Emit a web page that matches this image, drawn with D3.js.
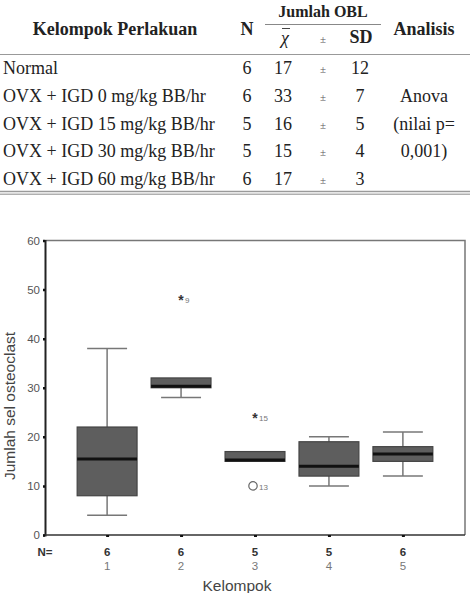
<!DOCTYPE html>
<html>
<head>
<meta charset="utf-8">
<script src="https://cdn.jsdelivr.net/npm/d3@7"></script>
<style>
	body { margin: 0; background: #fff; }
	svg { display: block; }
	.serif { font-family: "Liberation Serif", "Times New Roman", serif; fill: #222; }
	.sans { font-family: "Liberation Sans", Arial, sans-serif; }
</style>
</head>
<body>
<div id="chart"></div>
<script>
// table data
var tableGroups = ["Normal", "OVX + IGD 0 mg/kg BB/hr", "OVX + IGD 15 mg/kg BB/hr", "OVX + IGD 30 mg/kg BB/hr", "OVX + IGD 60 mg/kg BB/hr"];
var tableN = [6, 6, 5, 5, 6];
var tableMean = [17, 33, 16, 15, 17];
var tableSD = [12, 7, 5, 4, 3];
var analysisLines = ["Anova", "(nilai p=", "0,001)"];

// boxplot data
var groups = ["1", "2", "3", "4", "5"];
var groupN = [6, 6, 5, 5, 6];
var whiskerLow = [4, 28, 15, 10, 12];
var q1 = [8, 30, 15, 12, 15];
var median = [15.5, 30, 15, 14, 16.5];
var q3 = [22, 32, 17, 19, 18];
var whiskerHigh = [38, 32, 17, 20, 21];
var outlierGroup = ["2", "3", "3"];
var outlierValue = [48, 24, 10];
var outlierCase = ["9", "15", "13"];
var outlierKind = ["extreme", "extreme", "outlier"];
var yTicks = [0, 10, 20, 30, 40, 50, 60];

var width = 471, height = 593;

var svg = d3.select("#chart").append("svg")
	.attr("width", width)
	.attr("height", height);

svg.append("rect").attr("width", width).attr("height", height).attr("fill", "#fff");

//---------------- Table ----------------
var table = svg.append("g");
var colN = 247, colMean = 283, colPm = 323, colSD = 360, colAn = 424;

var rowY = d3.scalePoint()
	.domain(d3.range(tableGroups.length))
	.range([74, 185]);

// header
table.append("text").attr("class", "serif").attr("x", 115).attr("y", 35)
	.attr("text-anchor", "middle").style("font-size", "18px").style("font-weight", "bold")
	.text("Kelompok Perlakuan");
table.append("text").attr("class", "serif").attr("x", colN).attr("y", 35)
	.attr("text-anchor", "middle").style("font-size", "18px").style("font-weight", "bold")
	.text("N");
table.append("text").attr("class", "serif").attr("x", 323).attr("y", 17)
	.attr("text-anchor", "middle").style("font-size", "16px").style("font-weight", "bold")
	.text("Jumlah OBL");
table.append("line").attr("x1", 265).attr("x2", 381).attr("y1", 24.5).attr("y2", 24.5)
	.attr("stroke", "#888").attr("stroke-width", 1);
table.append("text").attr("class", "serif").attr("x", colMean + 2).attr("y", 44)
	.attr("text-anchor", "middle").style("font-size", "18px").style("font-style", "italic")
	.text("χ");
table.append("line").attr("x1", 282).attr("x2", 290).attr("y1", 28.5).attr("y2", 28.5)
	.attr("stroke", "#444").attr("stroke-width", 1);
table.append("text").attr("class", "serif").attr("x", colPm).attr("y", 43)
	.attr("text-anchor", "middle").style("font-size", "11px").style("fill", "#555")
	.text("±");
table.append("text").attr("class", "serif").attr("x", colSD + 1).attr("y", 43)
	.attr("text-anchor", "middle").style("font-size", "18px").style("font-weight", "bold")
	.text("SD");
table.append("text").attr("class", "serif").attr("x", colAn).attr("y", 35)
	.attr("text-anchor", "middle").style("font-size", "18px").style("font-weight", "bold")
	.text("Analisis");

table.append("line").attr("x1", 0).attr("x2", 470).attr("y1", 54.5).attr("y2", 54.5)
	.attr("stroke", "#999").attr("stroke-width", 1);

// rows
var rows = table.selectAll(".row")
	.data(tableGroups)
	.enter()
	.append("g")
	.attr("class", "row")
	.attr("transform", function(d, i) { return "translate(0," + rowY(i) + ")"; });

rows.append("text").attr("class", "serif").attr("x", 3)
	.style("font-size", "18px")
	.text(function(d) { return d; });
rows.append("text").attr("class", "serif").attr("x", colN).attr("text-anchor", "middle")
	.style("font-size", "18px")
	.text(function(d, i) { return tableN[i]; });
rows.append("text").attr("class", "serif").attr("x", colMean).attr("text-anchor", "middle")
	.style("font-size", "18px")
	.text(function(d, i) { return tableMean[i]; });
rows.append("text").attr("class", "serif").attr("x", colPm).attr("y", -1).attr("text-anchor", "middle")
	.style("font-size", "11px").style("fill", "#555")
	.text("±");
rows.append("text").attr("class", "serif").attr("x", colSD).attr("text-anchor", "middle")
	.style("font-size", "18px")
	.text(function(d, i) { return tableSD[i]; });

table.selectAll(".anal")
	.data(analysisLines)
	.enter()
	.append("text")
	.attr("class", "serif anal")
	.attr("x", colAn)
	.attr("y", function(d, i) { return rowY(i + 1); })
	.attr("text-anchor", "middle")
	.style("font-size", "18px")
	.text(function(d) { return d; });

// double bottom rule
table.append("line").attr("x1", 0).attr("x2", 470).attr("y1", 191.5).attr("y2", 191.5)
	.attr("stroke", "#9a9a9a").attr("stroke-width", 1.5);
table.append("line").attr("x1", 0).attr("x2", 470).attr("y1", 194.3).attr("y2", 194.3)
	.attr("stroke", "#b0b0b0").attr("stroke-width", 1.5);

//---------------- Boxplot ----------------
var plotLeft = 45, plotRight = 465, plotTop = 240.5, plotBottom = 535;

var x = d3.scalePoint()
	.domain(groups)
	.range([plotLeft, plotRight])
	.padding(0.84);

var y = d3.scaleLinear()
	.domain([0, 60])
	.range([plotBottom, plotTop]);

var plot = svg.append("g");

// frame top & right
plot.append("path")
	.attr("d", "M" + plotLeft + "," + plotTop + "H" + plotRight + "V" + plotBottom)
	.attr("fill", "none")
	.attr("stroke", "#777")
	.attr("stroke-width", 1.5);

// y axis
var yAxis = d3.axisLeft(y).tickValues(yTicks).tickSize(2).tickPadding(3);
var yg = plot.append("g")
	.attr("transform", "translate(" + plotLeft + ",0)")
	.call(yAxis);
yg.select(".domain").attr("stroke", "#222").attr("stroke-width", 2);
yg.selectAll(".tick line").attr("stroke", "#111").attr("stroke-width", 2.5);
yg.selectAll(".tick text")
	.attr("class", "sans")
	.style("font-size", "11.5px")
	.attr("fill", "#555");

// x axis
var xAxis = d3.axisBottom(x).tickSize(2).tickFormat("");
var xg = plot.append("g")
	.attr("transform", "translate(0," + plotBottom + ")")
	.call(xAxis);
xg.select(".domain").attr("d", "M" + plotLeft + ",0H" + plotRight).attr("stroke", "#333").attr("stroke-width", 1.5);
xg.selectAll(".tick line").attr("stroke", "#111").attr("stroke-width", 3);

// N row and group labels
plot.append("text").attr("class", "sans").attr("x", 45).attr("y", 556)
	.attr("text-anchor", "middle").style("font-size", "11.5px").style("font-weight", "bold")
	.attr("fill", "#333").text("N=");
plot.selectAll(".nlab")
	.data(groups)
	.enter()
	.append("text")
	.attr("class", "sans nlab")
	.attr("x", function(d) { return x(d); })
	.attr("y", 556)
	.attr("text-anchor", "middle")
	.style("font-size", "11.5px")
	.style("font-weight", "bold")
	.attr("fill", "#333")
	.text(function(d, i) { return groupN[i]; });
plot.selectAll(".glab")
	.data(groups)
	.enter()
	.append("text")
	.attr("class", "sans glab")
	.attr("x", function(d) { return x(d); })
	.attr("y", 570)
	.attr("text-anchor", "middle")
	.style("font-size", "11.5px")
	.attr("fill", "#777")
	.text(function(d) { return d; });

plot.append("text").attr("class", "sans").attr("x", 237).attr("y", 591)
	.attr("text-anchor", "middle").style("font-size", "15.5px").attr("fill", "#444")
	.text("Kelompok");

plot.append("text").attr("class", "sans")
	.attr("transform", "translate(15,406) rotate(-90)")
	.attr("text-anchor", "middle").style("font-size", "15.5px").attr("fill", "#444")
	.text("Jumlah sel osteoclast");

// boxes
var boxW = x.step() * 0.81, capW = x.step() * 0.54;

var box = plot.selectAll(".box")
	.data(groups)
	.enter()
	.append("g")
	.attr("class", "box");

box.append("line")
	.attr("x1", function(d) { return x(d); })
	.attr("x2", function(d) { return x(d); })
	.attr("y1", function(d, i) { return y(whiskerLow[i]); })
	.attr("y2", function(d, i) { return y(whiskerHigh[i]); })
	.attr("stroke", "#777").attr("stroke-width", 1.5);

box.append("line")
	.attr("x1", function(d) { return x(d) - capW / 2; })
	.attr("x2", function(d) { return x(d) + capW / 2; })
	.attr("y1", function(d, i) { return y(whiskerLow[i]); })
	.attr("y2", function(d, i) { return y(whiskerLow[i]); })
	.attr("stroke", "#777").attr("stroke-width", 1.5)
	.style("display", function(d, i) { return whiskerLow[i] < q1[i] ? null : "none"; });

box.append("line")
	.attr("x1", function(d) { return x(d) - capW / 2; })
	.attr("x2", function(d) { return x(d) + capW / 2; })
	.attr("y1", function(d, i) { return y(whiskerHigh[i]); })
	.attr("y2", function(d, i) { return y(whiskerHigh[i]); })
	.attr("stroke", "#777").attr("stroke-width", 1.5)
	.style("display", function(d, i) { return whiskerHigh[i] > q3[i] ? null : "none"; });

box.append("rect")
	.attr("x", function(d) { return x(d) - boxW / 2; })
	.attr("y", function(d, i) { return y(q3[i]); })
	.attr("width", boxW)
	.attr("height", function(d, i) { return y(q1[i]) - y(q3[i]); })
	.attr("fill", "#5e5e5e")
	.attr("stroke", "#444")
	.attr("stroke-width", 1.2);

box.append("line")
	.attr("x1", function(d) { return x(d) - boxW / 2; })
	.attr("x2", function(d) { return x(d) + boxW / 2; })
	.attr("y1", function(d, i) { return Math.min(y(median[i]), y(q1[i]) - 1.5); })
	.attr("y2", function(d, i) { return Math.min(y(median[i]), y(q1[i]) - 1.5); })
	.attr("stroke", "#111").attr("stroke-width", 3);

// outliers
var outliers = d3.range(outlierGroup.length);
var out = plot.selectAll(".outlier")
	.data(outliers)
	.enter()
	.append("g")
	.attr("class", "outlier")
	.attr("transform", function(i) { return "translate(" + x(outlierGroup[i]) + "," + y(outlierValue[i]) + ")"; });

out.filter(function(i) { return outlierKind[i] == "extreme"; })
	.append("text")
	.attr("class", "sans")
	.attr("text-anchor", "middle")
	.attr("y", 6)
	.style("font-size", "14px")
	.style("font-weight", "bold")
	.attr("fill", "#333")
	.text("*");

out.filter(function(i) { return outlierKind[i] == "outlier"; })
	.append("circle")
	.attr("cx", -2)
	.attr("r", 4.2)
	.attr("fill", "none")
	.attr("stroke", "#666")
	.attr("stroke-width", 1.2);

out.append("text")
	.attr("class", "sans")
	.attr("x", 4)
	.attr("y", 4)
	.style("font-size", "8px")
	.attr("fill", "#777")
	.text(function(i) { return outlierCase[i]; });
</script>
</body>
</html>
